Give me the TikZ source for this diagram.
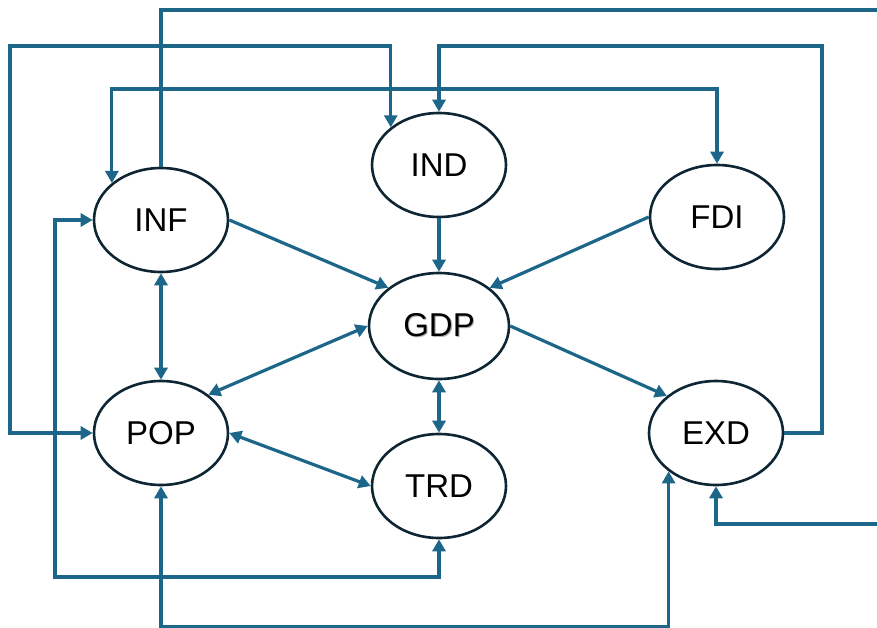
\documentclass[tikz,border=0pt]{standalone}
\usepackage{fontspec}
\setmainfont{Liberation Sans}
\usetikzlibrary{shapes.geometric,arrows.meta}
\definecolor{linkblue}{RGB}{28,102,138}
\definecolor{rimnavy}{RGB}{14,38,52}
% label with a faint drop shadow
\newcommand{\softshadow}[1]{\makebox[0pt][l]{\hspace{1.2pt}\raisebox{-1.2pt}{\color{black!30}#1}}#1}

\begin{document}
\begin{tikzpicture}[x=1pt, y=-1pt,
  >={Triangle[length=12pt,width=13pt]},
  var/.style={ellipse, draw=rimnavy, line width=2.6pt, fill=white, inner sep=0pt,
    minimum width=134pt, minimum height=104pt, font=\fontsize{33}{38}\selectfont},
  link/.style={draw=linkblue, line width=3.2pt}
]
\useasboundingbox (0,0) rectangle (877,628);

% variables
\node[var] (INF) at (161,220) {INF};
\node[var] (IND) at (439,165) {IND};
\node[var] (FDI) at (717,217) {FDI};
\node[var, minimum width=140pt, minimum height=106pt] (GDP) at (439,326) {\softshadow{GDP}};
\node[var] (POP) at (161,433) {POP};
\node[var] (TRD) at (439,486) {TRD};
\node[var] (EXD) at (716,433) {EXD};

% loose ends at the right border
\coordinate (outtop) at (877,10);
\coordinate (inright) at (877,524);

% direct links
\draw[link,->] (INF.east) -- (GDP.143);
\draw[link,->] (IND.south) -- (GDP.north);
\draw[link,->] (FDI.west) -- (GDP.37);
\draw[link,->] (GDP.east) -- (EXD.143);
\draw[link,<->] (INF.south) -- (POP.north);
\draw[link,<->] (GDP.west) -- (POP.39);
\draw[link,<->] (GDP.south) -- (TRD.north);
\draw[link,<->] (POP.east) -- (TRD.west);

% routed links
\draw[link] (INF.north) |- (outtop);
\draw[link,<->] (IND.142) |- (10,46) |- (POP.west);
\draw[link,->] (EXD.east) -| (822,46) -| (IND.north);
\draw[link,<->] (INF.143) -- (INF.143 |- 0,89) -| (FDI.north);
\draw[link,<->] (INF.west) -| (55,577) -| (TRD.south);
\draw[link,<->] (POP.south) |- (EXD.219 |- 0,627) -- (EXD.219);
\draw[link,->] (inright) -| (EXD.south);
\end{tikzpicture}
\end{document}
